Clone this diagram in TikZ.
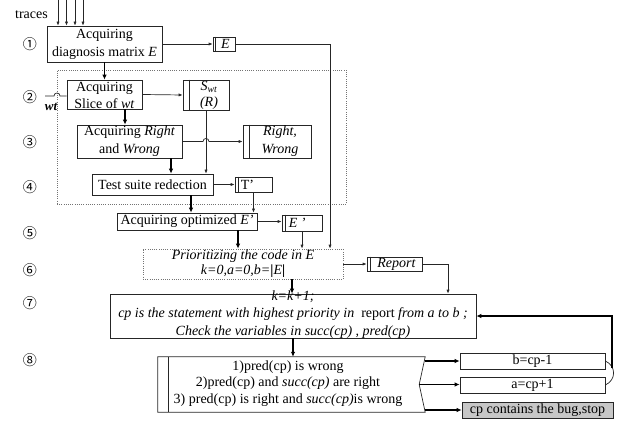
\documentclass[tikz,border=0pt]{standalone}
\usepackage{fontspec}
\setmainfont{Liberation Serif}
\newfontfamily\cjkfont{Noto Sans CJK SC}
\usetikzlibrary{arrows.meta,calc}
\begin{document}
\begin{tikzpicture}[x=1pt,y=-1pt,
  fr/.style 2 args={draw=black!85, line width=0.7pt, inner sep=0pt, minimum width=#1, minimum height=#2},
  ghost/.style 2 args={inner sep=0pt, minimum width=#1, minimum height=#2},
  dotbox/.style 2 args={draw=black!55, line width=0.7pt, dash pattern=on 0.8pt off 1.4pt, inner sep=0pt, minimum width=#1, minimum height=#2},
  txt/.style={inner sep=0pt, align=center, font=\fontsize{14}{18}\selectfont},
  num/.style={inner sep=0pt, font=\cjkfont\fontsize{14}{14}\selectfont},
  thinl/.style={draw=black!85, line width=0.7pt},
  thinarr/.style={draw=black!85, line width=0.7pt, -{Latex[length=4pt,width=3.2pt]}},
  thickarr/.style={draw=black, line width=1.5pt, -{Latex[length=5pt,width=4.5pt]}},
  dotl/.style={draw=black!55, line width=0.7pt, dash pattern=on 0.8pt off 1.4pt}
]
\useasboundingbox (0,0) rectangle (621,422);

% dotted group
\node[dotbox={289pt}{134pt}] (grp) at (201.5,137) {};

% circled numbers
\node[num] (n1) at (30,44) {①};
\node[num] (n2) at (30,97) {②};
\node[num] (n3) at (30,142) {③};
\node[num] (n4) at (30,187) {④};
\node[num] (n5) at (30,233) {⑤};
\node[num] (n6) at (30,270) {⑥};
\node[num] (n7) at (30,303) {⑦};
\node[num] (n8) at (30,360) {⑧};

% traces
\node[txt] (tr) at (31.5,15) {traces};

% frames
\node[fr={115pt}{36pt}] (b1) at (104.5,44) {};
\node[fr={22pt}{14pt}] (E) at (224,44) {};
\node[fr={75pt}{29pt}] (b2) at (104.5,94.5) {};
\node[fr={46pt}{30pt}] (S) at (206,95) {};
\node[fr={105pt}{33pt}] (b3) at (129.5,141.5) {};
\node[fr={68pt}{33pt}] (RW) at (277,141.5) {};
\node[fr={121pt}{21pt}] (b4) at (152.5,184.5) {};
\node[fr={37pt}{15pt}] (T) at (253.5,184.5) {};
\node[fr={140pt}{17pt}] (b5) at (187,221.5) {};
\node[fr={40pt}{16pt}] (Ep) at (302,223) {};
\node[dotbox={200pt}{30pt}] (Prio) at (243,264) {};
\node[fr={55pt}{14pt}] (Rep) at (394.5,264) {};
\node[fr={366pt}{44pt}] (b7) at (293,316) {};
\node[ghost={267pt}{55pt}] (b8) at (291.5,384.5) {};
\node[fr={145pt}{16pt}] (bb) at (532.5,361) {};
\node[fr={145pt}{16pt}] (ab) at (532.5,385) {};
\node[fr={151pt}{16pt}, fill=black!22] (cpb) at (537.5,410) {};

% box8 shape
\coordinate (b8p) at ($(b8.east)+(-6,0)$);
\draw[thinl] (b8.north west) -- (b8.north east) -- (b8p) -- (b8.south east) -- (b8.south west) -- cycle;
\draw[thinl] ([xshift=11pt]b8.north west) -- ([xshift=11pt]b8.south west);

% double strips
\draw[thinl] ([xshift=3pt]E.north west) -- ([xshift=3pt]E.south west);
\draw[thinl] ([xshift=7pt]S.north west) -- ([xshift=7pt]S.south west);
\draw[thinl] ([xshift=7pt]RW.north west) -- ([xshift=7pt]RW.south west);
\draw[thinl] ([xshift=4pt]T.north west) -- ([xshift=4pt]T.south west);
\draw[thinl] ([xshift=4pt]Ep.north west) -- ([xshift=4pt]Ep.south west);
\draw[thinl] ([xshift=4pt]Rep.north west) -- ([xshift=4pt]Rep.south west);

% texts
\node[txt] (b1t) at (b1.center) {Acquiring\\diagnosis matrix \textit{E}};
\node[txt] (Et) at ([xshift=1.5pt]E.center) {\textit{E}};
\node[txt, font=\fontsize{14}{17}\selectfont] (b2t) at ([yshift=-1pt]b2.center) {Acquiring\\Slice of \textit{wt}};
\node[txt, font=\fontsize{14}{16}\selectfont] (St) at ([xshift=3pt]S.center) {\textit{S}\textsubscript{\textit{wt}}\\\textit{(R)}};
\node[txt] (b3t) at (b3.center) {Acquiring \textit{Right}\\and \textit{Wrong}};
\node[txt] (RWt) at ([xshift=3pt]RW.center) {\textit{Right,}\\\textit{Wrong}};
\node[txt] (b4t) at (b4.center) {Test suite redection};
\node[txt, anchor=west] (Tt) at ([xshift=6pt]T.west) {T’};
\node[txt] (b5t) at (b5.center) {Acquiring optimized \textit{E’}};
\node[txt, anchor=west] (Ept) at ([xshift=7pt]Ep.west) {\textit{E ’}};
\node[txt, font=\fontsize{14}{15}\selectfont] (Priot) at (Prio.center) {\textit{Prioritizing the code in E}\\\textit{k=0,a=0,b=}\textbf{|}\textit{E}\textbf{|}};
\node[txt] (Rept) at ([xshift=2pt]Rep.center) {\textit{Report}};
\node[txt, font=\fontsize{14}{17.5}\selectfont] (b7t) at ([yshift=1.5pt]b7.center) {\textit{k=k+1;}\\\textit{cp is the statement with highest priority in}\ \ report \textit{from a to b ;}\\\textit{Check the variables in succ(cp) , pred(cp)}};
\node[txt, font=\fontsize{14}{16.5}\selectfont] (b8t) at (288,383.5) {1)pred(cp) is wrong\\2)pred(cp) and \textit{succ(cp)} are right\\3) pred(cp) is right and \textit{succ(cp)}is wrong};
\node[txt] (bbt) at (bb.center) {b=cp-1};
\node[txt] (abt) at (ab.center) {a=cp+1};
\node[txt] (cpt) at (cpb.center) {cp contains the bug,stop};
\node[txt, font=\bfseries\itshape\fontsize{13}{13}\selectfont] (wtl) at (51,107) {wt};

% trace arrows
\coordinate (t1) at (58,0);
\coordinate (t2) at (66.5,0);
\coordinate (t3) at (75,0);
\coordinate (t4) at (83,0);
\foreach \t in {t1,t2,t3,t4} \draw[thinarr] (\t) -- (\t |- b1.north);

% main flow (thick)
\draw[thickarr] (b1.south) -- (b2.north);
\coordinate (c23) at ($(b2.south)+(20.5,0)$);
\draw[thickarr] (c23) -- (c23 |- b3.north);
\coordinate (c34) at ($(b3.south)+(41.5,0)$);
\draw[thickarr] (c34) -- (c34 |- b4.north);
\coordinate (c45) at ($(b4.south)+(38.5,0)$);
\draw[thickarr] (c45) -- (c45 |- b5.north);
\coordinate (c56) at ($(b5.south)+(51,0)$);
\draw[thickarr] (c56) -- (c56 |- Prio.north);
\coordinate (c67) at ($(Prio.south)+(49,0)$);
\draw[thickarr] (c67) -- (c67 |- b7.north);
\draw[thickarr] (b7.south) -- (b7.south |- b8.north);

% side arrows (thin)
\draw[thinarr] (b1.east) -- (E.west);
\coordinate (eline) at ($(Prio.north)+(87,0)$);
\draw[thinarr] (E.east) -| (eline);
\coordinate (h1) at (54,96);
\draw[thinl] (45,96) -- (h1) .. controls ($(h1)+(0,-4)$) and ($(h1)+(6,-4)$) .. ($(h1)+(6,0)$) -- (h1 -| b2.west);
\draw[thinarr] (b2.east) -- (S.west);
\coordinate (h2) at ($(S.south |- b3.east)+(-3,0)$);
\draw[thinarr] (b3.east) -- (h2) .. controls ($(h2)+(0,-4)$) and ($(h2)+(6,-4)$) .. ($(h2)+(6,0)$) -- (RW.west);
\draw[thinarr] (S.south) -- (S.south |- b4.north);
\draw[thinarr] (b4.east) -- (T.west);
\draw[thinarr] (T.south) -- (T.south |- b5.north);
\draw[thinarr] (b5.east) -- (b5.east -| Ep.west);
\draw[thinarr] (Ep.south) -- (Ep.south |- Prio.north);
\draw[thinarr] (Prio.east) -- (Rep.west);
\coordinate (rline) at ($(b7.north)+(155,0)$);
\draw[thinarr] (Rep.east) -| (rline);

% outputs of box 8
\draw[thickarr] (b8.north east |- bb.west) -- (bb.west);
\draw[thickarr] (b8p) -- (b8p -| ab.west);
\draw[thickarr] (b8.south east |- cpb.west) -- (cpb.west);

% feedback
\draw[thinl] (bb.east) .. controls ($(bb.east)+(11,5)$) and ($(ab.east)+(11,-5)$) .. (ab.east);
\coordinate (fb) at (612,368);
\draw[thickarr] (fb) |- (b7.east);
\end{tikzpicture}
\end{document}
